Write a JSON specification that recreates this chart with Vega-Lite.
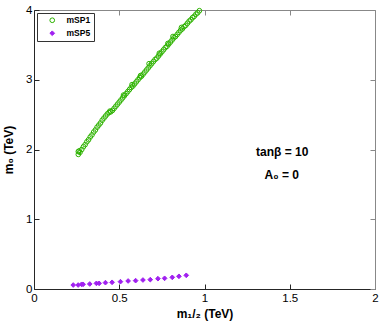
{
  "$schema": "https://vega.github.io/schema/vega-lite/v6.json",
  "width": 341,
  "height": 279,
  "autosize": "none",
  "padding": {"left": 34, "top": 10, "right": 7, "bottom": 38},
  "background": "white",
  "config": {
    "view": {"stroke": null},
    "font": "Liberation Sans",
    "axis": {
      "grid": false,
      "domainColor": "#262626",
      "tickColor": "#262626",
      "domainWidth": 1,
      "tickSize": -5,
      "labelFlush": false,
      "labelOverlap": false,
      "labelFont": "Liberation Sans",
      "labelFontSize": 11.5,
      "labelColor": "#000000",
      "titleFont": "Liberation Sans",
      "titleFontSize": 12,
      "titleFontWeight": "bold",
      "titleColor": "#000000"
    },
    "legend": {
      "orient": "none",
      "legendX": 3,
      "legendY": 3,
      "strokeColor": "#333333",
      "fillColor": "white",
      "padding": 3,
      "symbolOffset": 8,
      "symbolSize": 22,
      "symbolStrokeWidth": 1,
      "labelFont": "Liberation Sans",
      "labelFontSize": 8.5,
      "labelFontWeight": "bold",
      "labelColor": "#000000",
      "labelOffset": 10,
      "rowPadding": 3
    }
  },
  "datasets": {
    "pts": [
      {"series": "mSP1", "m12": 0.26, "m0": 1.93},
      {"series": "mSP1", "m12": 0.26, "m0": 1.97},
      {"series": "mSP1", "m12": 0.265, "m0": 1.98},
      {"series": "mSP1", "m12": 0.27, "m0": 1.96},
      {"series": "mSP1", "m12": 0.28, "m0": 2.0},
      {"series": "mSP1", "m12": 0.29, "m0": 2.04},
      {"series": "mSP1", "m12": 0.3, "m0": 2.07},
      {"series": "mSP1", "m12": 0.31, "m0": 2.11},
      {"series": "mSP1", "m12": 0.32, "m0": 2.14},
      {"series": "mSP1", "m12": 0.33, "m0": 2.18},
      {"series": "mSP1", "m12": 0.34, "m0": 2.21},
      {"series": "mSP1", "m12": 0.35, "m0": 2.25},
      {"series": "mSP1", "m12": 0.36, "m0": 2.28},
      {"series": "mSP1", "m12": 0.37, "m0": 2.32},
      {"series": "mSP1", "m12": 0.38, "m0": 2.35},
      {"series": "mSP1", "m12": 0.39, "m0": 2.38},
      {"series": "mSP1", "m12": 0.4, "m0": 2.42},
      {"series": "mSP1", "m12": 0.41, "m0": 2.45},
      {"series": "mSP1", "m12": 0.42, "m0": 2.48},
      {"series": "mSP1", "m12": 0.43, "m0": 2.51},
      {"series": "mSP1", "m12": 0.44, "m0": 2.53},
      {"series": "mSP1", "m12": 0.445, "m0": 2.55},
      {"series": "mSP1", "m12": 0.45, "m0": 2.54},
      {"series": "mSP1", "m12": 0.46, "m0": 2.56},
      {"series": "mSP1", "m12": 0.47, "m0": 2.59},
      {"series": "mSP1", "m12": 0.48, "m0": 2.62},
      {"series": "mSP1", "m12": 0.49, "m0": 2.65},
      {"series": "mSP1", "m12": 0.5, "m0": 2.68},
      {"series": "mSP1", "m12": 0.51, "m0": 2.71},
      {"series": "mSP1", "m12": 0.52, "m0": 2.74},
      {"series": "mSP1", "m12": 0.525, "m0": 2.78},
      {"series": "mSP1", "m12": 0.53, "m0": 2.77},
      {"series": "mSP1", "m12": 0.54, "m0": 2.8},
      {"series": "mSP1", "m12": 0.55, "m0": 2.83},
      {"series": "mSP1", "m12": 0.56, "m0": 2.86},
      {"series": "mSP1", "m12": 0.57, "m0": 2.89},
      {"series": "mSP1", "m12": 0.575, "m0": 2.93},
      {"series": "mSP1", "m12": 0.58, "m0": 2.91},
      {"series": "mSP1", "m12": 0.59, "m0": 2.94},
      {"series": "mSP1", "m12": 0.6, "m0": 2.97},
      {"series": "mSP1", "m12": 0.61, "m0": 3.0},
      {"series": "mSP1", "m12": 0.62, "m0": 3.03},
      {"series": "mSP1", "m12": 0.625, "m0": 3.06},
      {"series": "mSP1", "m12": 0.63, "m0": 3.05},
      {"series": "mSP1", "m12": 0.64, "m0": 3.08},
      {"series": "mSP1", "m12": 0.65, "m0": 3.11},
      {"series": "mSP1", "m12": 0.66, "m0": 3.14},
      {"series": "mSP1", "m12": 0.67, "m0": 3.17},
      {"series": "mSP1", "m12": 0.675, "m0": 3.23},
      {"series": "mSP1", "m12": 0.68, "m0": 3.2},
      {"series": "mSP1", "m12": 0.69, "m0": 3.23},
      {"series": "mSP1", "m12": 0.7, "m0": 3.26},
      {"series": "mSP1", "m12": 0.71, "m0": 3.29},
      {"series": "mSP1", "m12": 0.72, "m0": 3.31},
      {"series": "mSP1", "m12": 0.73, "m0": 3.34},
      {"series": "mSP1", "m12": 0.735, "m0": 3.38},
      {"series": "mSP1", "m12": 0.74, "m0": 3.37},
      {"series": "mSP1", "m12": 0.75, "m0": 3.4},
      {"series": "mSP1", "m12": 0.76, "m0": 3.43},
      {"series": "mSP1", "m12": 0.77, "m0": 3.46},
      {"series": "mSP1", "m12": 0.78, "m0": 3.48},
      {"series": "mSP1", "m12": 0.785, "m0": 3.52},
      {"series": "mSP1", "m12": 0.79, "m0": 3.51},
      {"series": "mSP1", "m12": 0.8, "m0": 3.54},
      {"series": "mSP1", "m12": 0.81, "m0": 3.57},
      {"series": "mSP1", "m12": 0.815, "m0": 3.62},
      {"series": "mSP1", "m12": 0.82, "m0": 3.6},
      {"series": "mSP1", "m12": 0.83, "m0": 3.62},
      {"series": "mSP1", "m12": 0.84, "m0": 3.65},
      {"series": "mSP1", "m12": 0.85, "m0": 3.68},
      {"series": "mSP1", "m12": 0.86, "m0": 3.71},
      {"series": "mSP1", "m12": 0.865, "m0": 3.75},
      {"series": "mSP1", "m12": 0.87, "m0": 3.73},
      {"series": "mSP1", "m12": 0.88, "m0": 3.76},
      {"series": "mSP1", "m12": 0.89, "m0": 3.78},
      {"series": "mSP1", "m12": 0.9, "m0": 3.81},
      {"series": "mSP1", "m12": 0.91, "m0": 3.84},
      {"series": "mSP1", "m12": 0.92, "m0": 3.86},
      {"series": "mSP1", "m12": 0.93, "m0": 3.89},
      {"series": "mSP1", "m12": 0.94, "m0": 3.91},
      {"series": "mSP1", "m12": 0.95, "m0": 3.94},
      {"series": "mSP1", "m12": 0.96, "m0": 3.96},
      {"series": "mSP1", "m12": 0.97, "m0": 3.99},
      {"series": "mSP5", "m12": 0.23, "m0": 0.057},
      {"series": "mSP5", "m12": 0.259, "m0": 0.057},
      {"series": "mSP5", "m12": 0.279, "m0": 0.067},
      {"series": "mSP5", "m12": 0.288, "m0": 0.067},
      {"series": "mSP5", "m12": 0.327, "m0": 0.072},
      {"series": "mSP5", "m12": 0.366, "m0": 0.081},
      {"series": "mSP5", "m12": 0.382, "m0": 0.081},
      {"series": "mSP5", "m12": 0.419, "m0": 0.091},
      {"series": "mSP5", "m12": 0.458, "m0": 0.096},
      {"series": "mSP5", "m12": 0.507, "m0": 0.105},
      {"series": "mSP5", "m12": 0.552, "m0": 0.115},
      {"series": "mSP5", "m12": 0.596, "m0": 0.12},
      {"series": "mSP5", "m12": 0.639, "m0": 0.129},
      {"series": "mSP5", "m12": 0.682, "m0": 0.134},
      {"series": "mSP5", "m12": 0.727, "m0": 0.148},
      {"series": "mSP5", "m12": 0.766, "m0": 0.153},
      {"series": "mSP5", "m12": 0.811, "m0": 0.167},
      {"series": "mSP5", "m12": 0.85, "m0": 0.182},
      {"series": "mSP5", "m12": 0.893, "m0": 0.196}
    ],
    "notes": [
      {"label": "tanβ = 10", "m12": 1.456, "m0": 1.97},
      {"label": "A₀ = 0", "m12": 1.453, "m0": 1.64}
    ]
  },
  "layer": [
    {
      "data": {"name": "pts"},
      "mark": {"type": "point", "size": 22, "strokeWidth": 1, "opacity": 1},
      "encoding": {
        "x": {
          "field": "m12", "type": "quantitative",
          "scale": {"domain": [0, 2], "nice": false},
          "axis": {"orient": "bottom", "values": [0, 0.5, 1, 1.5, 2], "format": "~g", "title": "m₁/₂ (TeV)", "labelPadding": 8, "titlePadding": 5}
        },
        "y": {
          "field": "m0", "type": "quantitative",
          "scale": {"domain": [0, 4], "nice": false},
          "axis": {"orient": "left", "values": [0, 1, 2, 3, 4], "format": "d", "title": "m₀ (TeV)", "labelPadding": 7, "titlePadding": 10}
        },
        "stroke": {
          "field": "series", "type": "nominal",
          "scale": {"domain": ["mSP1", "mSP5"], "range": ["#2db300", "#a020f0"]},
          "legend": {"title": null}
        },
        "fill": {
          "field": "series", "type": "nominal",
          "scale": {"domain": ["mSP1", "mSP5"], "range": ["transparent", "#a020f0"]},
          "legend": {"title": null}
        },
        "shape": {
          "field": "series", "type": "nominal",
          "scale": {"domain": ["mSP1", "mSP5"], "range": ["circle", "diamond"]},
          "legend": {"title": null}
        }
      }
    },
    {
      "data": {"name": "notes"},
      "mark": {"type": "text", "fontWeight": "bold", "fontSize": 12, "font": "Liberation Sans", "color": "#000000"},
      "encoding": {
        "x": {
          "field": "m12", "type": "quantitative",
          "axis": {"orient": "top", "values": [0, 0.5, 1, 1.5, 2], "labels": false, "title": null, "domainColor": "#888888", "tickColor": "#888888"}
        },
        "y": {
          "field": "m0", "type": "quantitative",
          "axis": {"orient": "right", "values": [0, 1, 2, 3, 4], "labels": false, "title": null, "domainColor": "#888888", "tickColor": "#888888"}
        },
        "text": {"field": "label"}
      }
    }
  ]
}
